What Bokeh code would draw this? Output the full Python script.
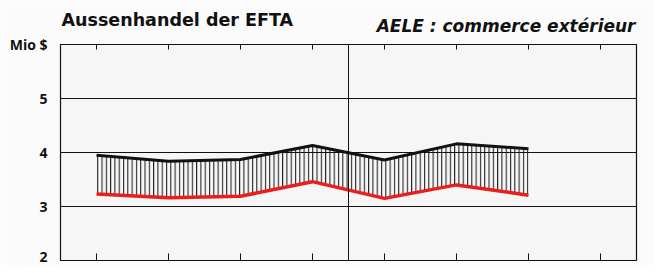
from bokeh.plotting import figure
from bokeh.models import FixedTicker, LinearAxis, Span, Label, Range1d
from bokeh.embed import file_html
from bokeh.resources import INLINE

# Quarters (x positions at quarter centres), two years of four quarters each
quarters = [0.5, 1.5, 2.5, 3.5, 4.5, 5.5, 6.5]
imports_ = [3.95, 3.84, 3.87, 4.13, 3.86, 4.16, 4.07]   # black line
exports_ = [3.23, 3.16, 3.19, 3.46, 3.15, 3.40, 3.21]   # red line
x_ticks = [0.5, 1.5, 2.5, 3.5, 4.5, 5.5, 6.5, 7.5]
y_ticks = [2, 3, 4, 5, 6]
y_labels = {6: "Mio $"}
year_divider = 4
title_de = "Aussenhandel der EFTA"
title_fr = "AELE : commerce extérieur"

p = figure(width=653, height=265, output_backend="svg", toolbar_location=None,
           x_range=Range1d(0, 8), y_range=Range1d(2, 6),
           x_axis_location=None, y_axis_location=None,
           min_border_left=60, min_border_right=17, min_border_top=44, min_border_bottom=5,
           background_fill_color="#f6f6f6", border_fill_color="#fbfbfb",
           outline_line_color="#111111", outline_line_width=1.2)

# Left axis with labels only
ya = LinearAxis(ticker=FixedTicker(ticks=y_ticks))
ya.major_label_overrides = y_labels
ya.axis_line_color = None
ya.major_tick_line_color = None
ya.minor_tick_line_color = None
ya.major_label_standoff = 7
ya.major_label_text_font = "Open Sans"
ya.major_label_text_font_style = "bold"
ya.major_label_text_font_size = "14px"
ya.major_label_text_color = "#111111"
p.add_layout(ya, "left")

# Bottom and top axes: inward ticks, no labels
for loc, tin in (("below", 7), ("above", 5)):
    ax = LinearAxis(ticker=FixedTicker(ticks=x_ticks))
    ax.axis_line_color = None
    ax.major_tick_in = tin
    ax.major_tick_out = 0
    ax.minor_tick_line_color = None
    ax.major_tick_line_color = "#111111"
    ax.major_label_text_color = None
    ax.major_label_text_font_size = "0px"
    ax.major_label_standoff = 0
    p.add_layout(ax, loc)

p.xgrid.visible = False
p.ygrid.ticker = FixedTicker(ticks=y_ticks)
p.ygrid.grid_line_color = "#111111"
p.ygrid.grid_line_width = 1

p.add_layout(Span(location=year_divider, dimension="height",
                  line_color="#111111", line_width=1))

# Hatched area between the two series
p.varea(x=quarters, y1=exports_, y2=imports_, fill_alpha=0,
        hatch_pattern="vertical_line", hatch_color="#111111",
        hatch_scale=4.3, hatch_weight=1)

p.line(quarters, imports_, line_color="#111111", line_width=3)
p.line(quarters, exports_, line_color="#ea1e1c", line_width=3.5)

p.add_layout(Label(x=61, y=19, x_units="canvas", y_units="canvas", text=title_de,
                   text_font="DejaVu Sans", text_font_style="bold",
                   text_font_size="17.5px", text_color="#111111",
                   text_baseline="alphabetic"), "above")
p.add_layout(Label(x=635, y=25, x_units="canvas", y_units="canvas", text=title_fr,
                   text_font="DejaVu Sans", text_font_style="bold italic",
                   text_font_size="17px", text_color="#111111",
                   text_align="right", text_baseline="alphabetic"), "above")

open("out.html", "w").write(file_html(p, INLINE))
